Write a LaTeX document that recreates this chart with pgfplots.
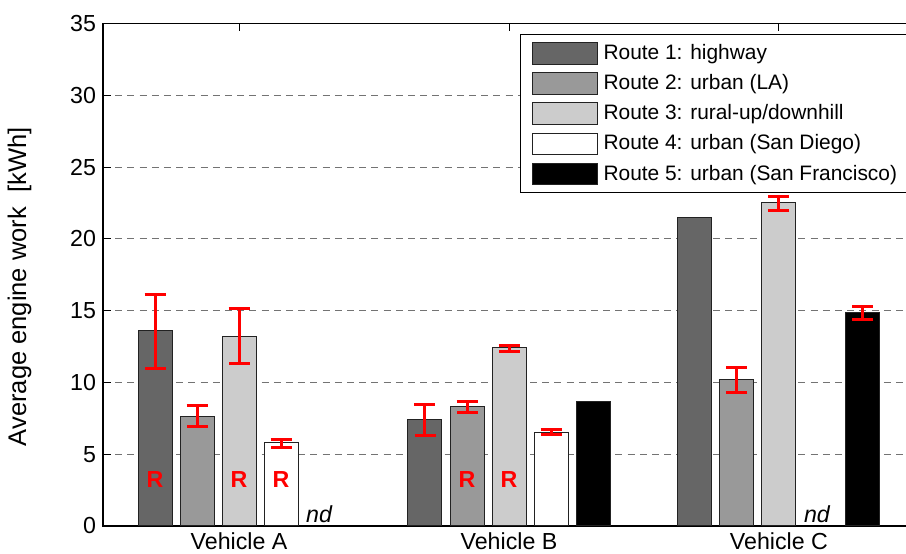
\documentclass[border=0pt]{standalone}
\usepackage{fontspec}
\setmainfont{Liberation Sans}
\usepackage{pgfplots}
\pgfplotsset{compat=1.18}
\definecolor{rA}{HTML}{666666}
\definecolor{rB}{HTML}{999999}
\definecolor{rC}{HTML}{CCCCCC}
\definecolor{edge}{HTML}{222222}
\begin{document}
\begin{tikzpicture}
\begin{axis}[
  scale only axis, width=406pt, height=251.25pt,
  xmin=-0.504, xmax=2.504, ymin=0, ymax=35,
  xtick={0,1,2}, xticklabels={Vehicle A,Vehicle B,Vehicle C},
  ytick={0,5,...,35}, ytick pos=left,
  tick align=inside, major tick length=4pt,
  tick style={black, line width=0.5pt},
  axis line style={black, line width=0.6pt},
  ymajorgrids,
  major grid style={draw=black!55, line width=0.5pt, dash pattern=on 3.5pt off 2.6pt},
  ylabel={Average engine work~~[kWh]},
  every axis y label/.style={at={(axis description cs:-0.1028,0.476)}, rotate=90, anchor=center},
  tick label style={font=\fontsize{11.6}{13}\selectfont},
  label style={font=\fontsize{12.75}{14}\selectfont},
  /pgf/number format/assume math mode=true,
  legend style={at={(0.5135,0.979)}, anchor=north west, draw=black, line width=0.6pt, fill=white,
    inner xsep=5.5pt, inner ysep=3.5pt, row sep=3.5pt,
    font=\fontsize{10.45}{12.5}\selectfont,
    nodes={inner sep=0pt, inner xsep=3pt, text height=8.8pt, text depth=2.8pt}},
  legend cell align=left,
  legend image code/.code={\draw[#1, line width=0.5pt] (0pt,-5.4pt) rectangle (32.5pt,5.4pt);},
  bars/.style={ybar, bar width=17pt, draw=edge, line width=0.5pt},
  errs/.style={draw=none, mark=none, forget plot,
    error bars/y dir=both, error bars/y explicit,
    error bars/error bar style={draw=red, line width=1.5pt, solid},
    error bars/error mark options={draw=red, rotate=90, mark size=5.25pt, line width=1.5pt, solid}},
]
% bars
\addplot[bars, fill=rA, bar shift=-42pt] coordinates {(0,13.6) (1,7.4) (2,21.5)};
\addlegendentry{Route 1: highway}
\addplot[bars, fill=rB, bar shift=-21pt] coordinates {(0,7.6) (1,8.3) (2,10.2)};
\addlegendentry{Route 2: urban (LA)}
\addplot[bars, fill=rC, bar shift=0pt] coordinates {(0,13.2) (1,12.4) (2,22.5)};
\addlegendentry{Route 3: rural-up/downhill}
\addplot[bars, fill=white, bar shift=21pt] coordinates {(0,5.8) (1,6.5)};
\addlegendentry{Route 4: urban (San Diego)}
\addplot[bars, fill=black, bar shift=42pt] coordinates {(1,8.65) (2,14.85)};
\addlegendentry{Route 5: urban (San Francisco)}
% error bars
\addplot[errs, xshift=-42pt] coordinates {(0,13.6) += (0,2.5) -= (0,2.6) (1,7.4) += (0,1.05) -= (0,1.1)};
\addplot[errs, xshift=-21pt] coordinates {(0,7.6) += (0,0.8) -= (0,0.65) (1,8.3) += (0,0.35) -= (0,0.38) (2,10.2) += (0,0.83) -= (0,0.9)};
\addplot[errs] coordinates {(0,13.2) += (0,1.95) -= (0,1.85) (1,12.4) += (0,0.2) -= (0,0.25) (2,22.5) += (0,0.48) -= (0,0.5)};
\addplot[errs, xshift=21pt] coordinates {(0,5.8) += (0,0.25) -= (0,0.35) (1,6.5) += (0,0.25) -= (0,0.15)};
\addplot[errs, xshift=42pt] coordinates {(2,14.85) += (0,0.45) -= (0,0.5)};
% annotations
\begin{scope}[every node/.style={font=\bfseries\fontsize{11.6}{13}\selectfont, text=red}]
\node[xshift=-42pt] at (axis cs:0,3.27) {R};
\node at (axis cs:0,3.27) {R};
\node[xshift=21pt] at (axis cs:0,3.27) {R};
\node[xshift=-21pt] at (axis cs:1,3.27) {R};
\node at (axis cs:1,3.27) {R};
\end{scope}
\begin{scope}[every node/.style={font=\itshape\fontsize{11.6}{13}\selectfont}]
\node[xshift=40pt] at (axis cs:0,0.8) {nd};
\node[xshift=19pt] at (axis cs:2,0.8) {nd};
\end{scope}
\end{axis}
\pgfresetboundingbox
\path[use as bounding box] ([xshift=-51.5pt,yshift=-14pt]current axis.south west) rectangle ([xshift=-4.5pt,yshift=11.75pt]current axis.north east);
\end{tikzpicture}
\end{document}
